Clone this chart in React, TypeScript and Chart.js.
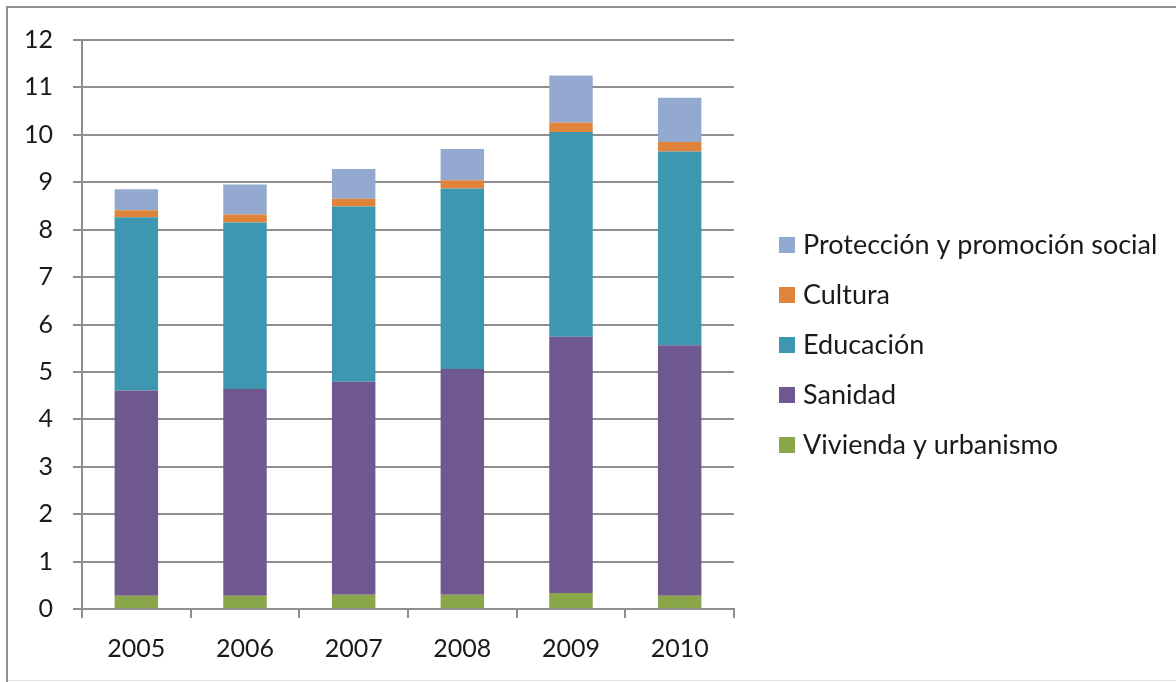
import React, { useEffect, useRef } from "react";
import { Chart, registerables } from "chart.js";

Chart.register(...registerables);

const years = ["2005", "2006", "2007", "2008", "2009", "2010"];
const vivienda = [0.28, 0.28, 0.3, 0.3, 0.34, 0.28];
const sanidad = [4.33, 4.36, 4.49, 4.76, 5.4, 5.28];
const educacion = [3.65, 3.51, 3.7, 3.81, 4.32, 4.09];
const cultura = [0.15, 0.17, 0.16, 0.17, 0.2, 0.2];
const proteccion = [0.44, 0.63, 0.63, 0.66, 0.99, 0.93];

const seriesNames = [
  "Vivienda y urbanismo",
  "Sanidad",
  "Educación",
  "Cultura",
  "Protección y promoción social",
];
const seriesColors = ["#8aa64b", "#6f5790", "#3e97b0", "#df843a", "#93a9d0"];

const FONT = "Lato, 'Open Sans', sans-serif";
const GRID = "#8e8e8e";
const TEXT = "#1a1a1a";

const legendPlugin = {
  id: "sideLegend",
  afterDraw(chart: any) {
    const ctx = chart.ctx;
    const items = chart.data.datasets.slice().reverse();
    ctx.save();
    ctx.font = `27px ${FONT}`;
    ctx.textBaseline = "middle";
    ctx.textAlign = "left";
    const x0 = chart.chartArea.right + 45;
    const y0 = 245;
    items.forEach((ds: any, i: number) => {
      const cy = y0 + i * 50;
      ctx.fillStyle = ds.backgroundColor;
      ctx.fillRect(x0, cy - 8, 16, 16);
      ctx.fillStyle = TEXT;
      ctx.fillText(ds.label, x0 + 24, cy);
    });
    ctx.restore();
  },
};

export default function App() {
  const ref = useRef<HTMLCanvasElement | null>(null);

  useEffect(() => {
    if (!ref.current) return;
    const data = [vivienda, sanidad, educacion, cultura, proteccion];
    const chart = new Chart(ref.current, {
      type: "bar",
      data: {
        labels: years,
        datasets: data.map((d, i) => ({
          label: seriesNames[i],
          data: d,
          backgroundColor: seriesColors[i],
          borderWidth: 0,
          barPercentage: 0.4,
          categoryPercentage: 1,
        })),
      },
      options: {
        animation: false,
        responsive: false,
        maintainAspectRatio: false,
        layout: { padding: { left: 0, top: 40, right: 442, bottom: 0 } },
        plugins: {
          legend: { display: false },
          tooltip: { enabled: false },
          title: { display: false },
        },
        scales: {
          x: {
            stacked: true,
            offset: true,
            grid: {
              offset: true,
              drawOnChartArea: false,
              drawTicks: true,
              tickLength: 9,
              color: GRID,
              lineWidth: 2,
            },
            border: { display: true, color: GRID, width: 2 },
            ticks: {
              color: TEXT,
              font: { family: FONT, size: 25 },
              padding: 16,
            },
            afterFit: (scale: any) => {
              scale.height = 73;
            },
          },
          y: {
            stacked: true,
            min: 0,
            max: 12,
            ticks: {
              stepSize: 1,
              color: TEXT,
              font: { family: FONT, size: 25 },
              padding: 20,
            },
            grid: {
              color: GRID,
              lineWidth: 2,
              drawTicks: true,
              tickLength: 9,
            },
            border: { display: true, color: GRID, width: 2 },
            afterFit: (scale: any) => {
              scale.width = 82;
            },
          },
        },
      },
      plugins: [legendPlugin],
    });
    return () => chart.destroy();
  }, []);

  return (
    <div
      style={{
        position: "fixed",
        left: 0,
        top: 0,
        width: 1176,
        height: 682,
        background: "#ffffff",
        overflow: "hidden",
      }}
    >
      <canvas
        ref={ref}
        width={1176}
        height={682}
        style={{ position: "absolute", left: 0, top: 0, width: 1176, height: 682 }}
      />
      <div style={{ position: "absolute", left: 6, top: 6, width: 1170, height: 2, background: "#8e8e8e" }} />
      <div style={{ position: "absolute", left: 6, top: 6, width: 2, height: 676, background: "#8e8e8e" }} />
      <div style={{ position: "absolute", left: 8, top: 680, width: 1168, height: 1, background: "#e3e3e3" }} />
    </div>
  );
}
